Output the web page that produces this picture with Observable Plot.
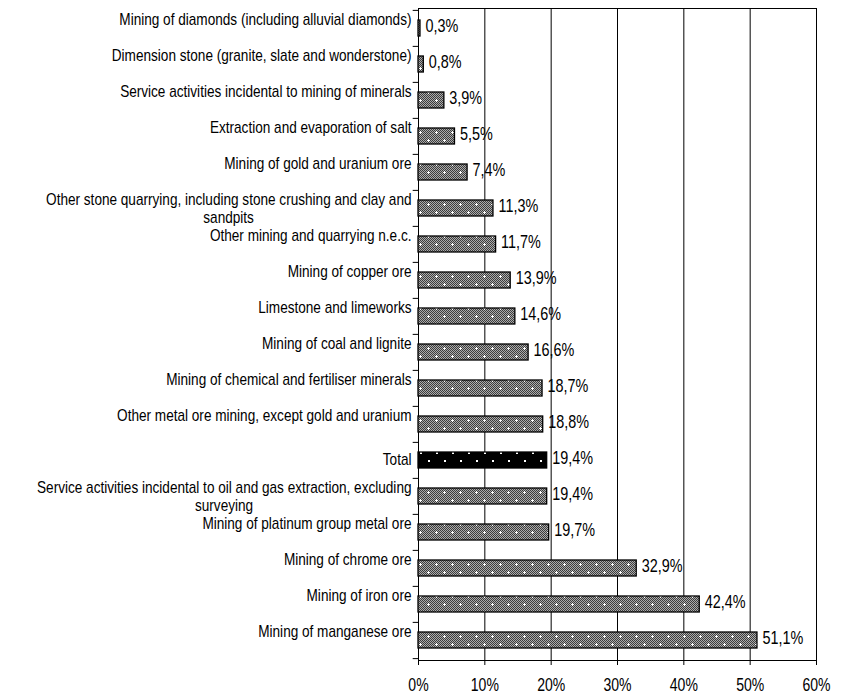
<!DOCTYPE html>
<html>
<head>
<meta charset="utf-8">
<script src="https://cdn.jsdelivr.net/npm/d3@7"></script>
<script src="https://cdn.jsdelivr.net/npm/@observablehq/plot@0.6"></script>
<style>
  html, body { margin: 0; padding: 0; background: #fff; }
  #chart { width: 846px; height: 694px; }
</style>
</head>
<body>
<div id="chart"></div>
<script>
const categories = [
  "Mining of diamonds (including alluvial diamonds)",
  "Dimension stone (granite, slate and wonderstone)",
  "Service activities incidental to mining of minerals",
  "Extraction and evaporation of salt",
  "Mining of gold and uranium ore",
  "Other stone quarrying, including stone crushing and clay and\nsandpits",
  "Other mining and quarrying n.e.c.",
  "Mining of copper ore",
  "Limestone and limeworks",
  "Mining of coal and lignite",
  "Mining of chemical and fertiliser minerals",
  "Other metal ore mining, except gold and uranium",
  "Total",
  "Service activities incidental to oil and gas extraction, excluding\nsurveying",
  "Mining of platinum group metal ore",
  "Mining of chrome ore",
  "Mining of iron ore",
  "Mining of manganese ore"
];
const values = [0.3, 0.8, 3.9, 5.5, 7.4, 11.3, 11.7, 13.9, 14.6, 16.6, 18.7, 18.8, 19.4, 19.4, 19.7, 32.9, 42.4, 51.1];
const xTicks = [0, 10, 20, 30, 40, 50, 60];
const totalLabel = "Total";

const data = categories.map((c, i) => ({cat: c, value: values[i]}));
const others = data.filter(d => d.cat !== totalLabel);
const totals = data.filter(d => d.cat === totalLabel);
const fmt = v => v.toFixed(1).replace(".", ",") + "%";

const W = 846, H = 694, mt = 8, mb = 34, ml = 418, mr = 30;
const step = (H - mt - mb) / categories.length;

const plot = Plot.plot({
  width: W,
  height: H,
  marginTop: mt,
  marginBottom: mb,
  marginLeft: ml,
  marginRight: mr,
  style: {fontFamily: "'Liberation Sans', Arial, sans-serif", fontSize: "16px", color: "black", background: "white", overflow: "visible"},
  x: {domain: [0, 60], axis: null},
  y: {domain: categories, paddingInner: 0.56, paddingOuter: 0.28, axis: null},
  marks: [
    Plot.ruleX(xTicks.filter(t => t > 0), {stroke: "black", strokeWidth: 1}),
    Plot.frame({stroke: "black", strokeWidth: 1}),
    Plot.ruleY(categories, {y: d => d, x1: -0.8, x2: 0, dy: -step / 2, stroke: "black"}),
    Plot.ruleY(categories.slice(-1), {y: d => d, x1: -0.8, x2: 0, dy: step / 2, stroke: "black"}),
    Plot.barX(others, {x: "value", y: "cat", fill: "url(#grayPat)", stroke: "black", strokeWidth: 1.3}),
    Plot.barX(totals, {x: "value", y: "cat", fill: "url(#blackPat)", stroke: "black", strokeWidth: 1.3}),
    Plot.text(others, {y: "cat", text: "cat", frameAnchor: "left", textAnchor: "end", lineAnchor: "top", lineHeight: 1.1, dx: -7, dy: -16, fontSize: 16, fill: "black"}),
    Plot.text(totals, {y: "cat", text: "cat", frameAnchor: "left", textAnchor: "end", dx: -7, dy: -1, fontSize: 16, fill: "black"}),
    Plot.text(data, {x: "value", y: "cat", text: d => fmt(d.value), textAnchor: "start", dx: 5, dy: -2, fontSize: 18, fill: "black"}),
    Plot.axisX({ticks: xTicks, tickFormat: d => d + "%", tickSize: 5, tickPadding: 13, fontSize: 18, label: null, stroke: "black"})
  ]
});

const defs = `
<defs>
  <pattern id="chk" width="2" height="2" patternUnits="userSpaceOnUse">
    <rect width="2" height="2" fill="#ababab"/>
    <rect width="1" height="1" fill="#3c3c3c"/>
    <rect x="1" y="1" width="1" height="1" fill="#3c3c3c"/>
  </pattern>
  <pattern id="grayPat" width="16" height="16" patternUnits="userSpaceOnUse">
    <rect width="16" height="16" fill="url(#chk)"/>
    <rect x="3" y="4" width="3" height="1" fill="#fff"/><rect x="4" y="3" width="1" height="3" fill="#fff"/>
    <rect x="11" y="12" width="3" height="1" fill="#fff"/><rect x="12" y="11" width="1" height="3" fill="#fff"/>
  </pattern>
  <pattern id="blackPat" width="16" height="16" patternUnits="userSpaceOnUse">
    <rect width="16" height="16" fill="#000"/>
    <rect x="4" y="4" width="2" height="2" fill="#fff"/>
    <rect x="12" y="12" width="2" height="2" fill="#fff"/>
  </pattern>
</defs>`;
plot.insertAdjacentHTML("afterbegin", defs);
document.getElementById("chart").appendChild(plot);

// center wrapped label lines under the widest line (right-aligned block)
plot.querySelectorAll("text").forEach(t => {
  const spans = t.querySelectorAll("tspan");
  if (spans.length > 1) {
    const widths = Array.from(spans, s => s.getComputedTextLength());
    const maxW = Math.max(...widths);
    spans.forEach((s, i) => s.setAttribute("x", -(maxW - widths[i]) / 2));
  }
});

// horizontally condense text like the reference (only x is scaled)
function squeeze(el, s) {
  let pre = "";
  const xa = el.getAttribute("x");
  if (xa !== null && xa !== "" && !isNaN(+xa)) {
    pre = ` translate(${+xa},0)`;
    el.removeAttribute("x");
  }
  const tr = el.getAttribute("transform") || "";
  el.setAttribute("transform", `${tr}${pre} scale(${s},1)`);
}
const textGroups = plot.querySelectorAll('g[aria-label="text"]');
textGroups.forEach((g, i) => {
  const s = i < 2 ? 0.85 : 0.8;
  g.querySelectorAll("text").forEach(t => squeeze(t, s));
});
plot.querySelectorAll('g[aria-label="x-axis tick label"] text').forEach(t => squeeze(t, 0.78));
</script>
</body>
</html>
